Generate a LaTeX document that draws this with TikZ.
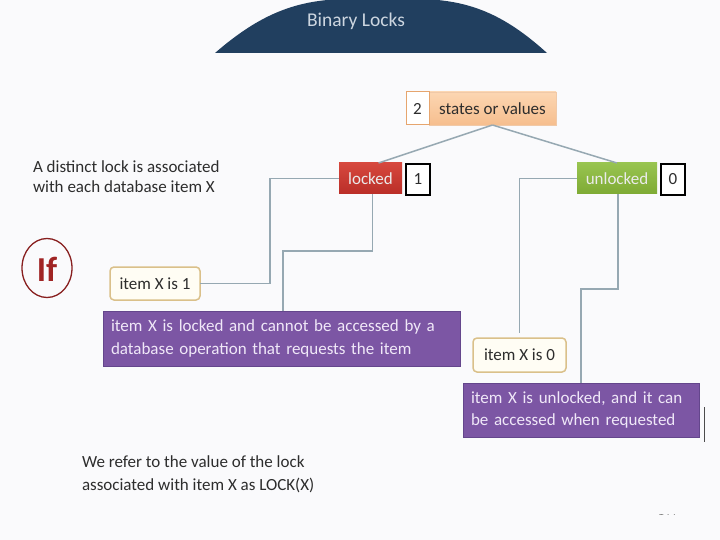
\documentclass[tikz,border=0pt]{standalone}
\usepackage{fontspec}
\setmainfont{Carlito}
\usetikzlibrary{calc,shapes.geometric}
\definecolor{bg}{RGB}{250,250,252}
\definecolor{dome}{RGB}{33,63,95}
\definecolor{titletxt}{RGB}{205,214,224}
\definecolor{conn}{RGB}{150,168,178}
\definecolor{txt}{RGB}{45,45,45}
\definecolor{peachT}{RGB}{252,214,178}
\definecolor{peachB}{RGB}{246,190,142}
\definecolor{peachD}{RGB}{230,165,110}
\definecolor{redT}{RGB}{214,72,62}
\definecolor{redB}{RGB}{186,46,40}
\definecolor{greenT}{RGB}{152,196,80}
\definecolor{greenB}{RGB}{126,170,52}
\definecolor{purp}{RGB}{124,86,164}
\definecolor{purpD}{RGB}{100,70,140}
\definecolor{purptxt}{RGB}{240,232,248}
\definecolor{itemfill}{RGB}{255,253,244}
\definecolor{itemdraw}{RGB}{218,192,138}
\definecolor{ifred}{RGB}{160,36,36}
\begin{document}
\begin{tikzpicture}[x=1pt,y=-1pt,
  every node/.style={inner sep=0pt,outer sep=0pt,font=\fontsize{17}{20}\selectfont,text=txt},
  conn/.style={draw=conn,line width=1.5pt},
  valbox/.style={draw=black,line width=1.3pt,fill=white,anchor=north west,minimum width=24pt,minimum height=31pt},
  statebox/.style={anchor=north west,minimum height=31pt,text=white!92!black},
  itembox/.style={draw=itemdraw,line width=1.5pt,fill=itemfill,rounded corners=4pt,anchor=north west},
  purpbox/.style={draw=purpD,line width=0.8pt,fill=purp,anchor=north west,align=left,text=purptxt}
]
\useasboundingbox (0,0) rectangle (720,540);
\fill[bg] (0,0) rectangle (720,540);
% title dome
\fill[dome] (215,53) .. controls (260,14) and (296,0) .. (345,-1) -- (420,-1) .. controls (469,0) and (504,14) .. (547,53) -- cycle;
\node[text=titletxt,font=\fontsize{19.5}{22}\selectfont] (title) at (356,21) {Binary Locks};
% states box
\node[anchor=north west,minimum width=127pt,minimum height=33pt,top color=peachT,bottom color=peachB,draw=peachD!60,line width=0.6pt] (states) at (429,92) {states or values};
\node[anchor=north west,minimum width=23pt,minimum height=33pt,fill=white,draw=peachD,line width=1pt] (two) at (406,92) {2};
% locked / unlocked
\node[statebox,minimum width=63pt,top color=redT,bottom color=redB] (locked) at (339,163) {locked};
\node[valbox] (one) at (406,164) {1};
\node[statebox,minimum width=80pt,top color=greenT,bottom color=greenB] (unlocked) at (577,163) {unlocked};
\node[valbox] (zero) at (661,164) {0};
% left texts
\node[anchor=north west,align=left] (distinct) at (33,161) {A distinct lock is associated\\with each database item X};
\node[draw=ifred!85!black,line width=1.3pt,ellipse,minimum width=50pt,minimum height=59pt] (ifc) at (47,268) {};
\node[text=ifred,font=\fontsize{35}{35}\bfseries] (iftxt) at (47,269) {If};
% item boxes
\node[itembox,minimum width=90pt,minimum height=33pt] (itemone) at (110,267) {item X is 1};
\node[itembox,minimum width=93pt,minimum height=34pt] (itemzero) at (473,338) {item X is 0};
% purple boxes
\node[purpbox,minimum width=357pt,minimum height=55pt,text width=341pt,inner xsep=8pt,font=\fontsize{17}{23.5}\selectfont] (purpone) at (103,311) {item X is locked and cannot be accessed by a\\database operation that requests the item};
\node[purpbox,minimum width=234pt,minimum height=54pt,text width=220pt,inner xsep=8pt,font=\fontsize{17}{22}\selectfont] (purptwo) at (463,383) {item X is unlocked, and it can\\be accessed when requested};
% bottom text
\node[anchor=north west,align=left,font=\fontsize{17}{23}\selectfont] (refer) at (82,456) {We refer to the value of the lock\\associated with item X as LOCK(X)};
% connectors
\draw[conn] (states.south) -- ($(locked.north)+(8,0)$);
\draw[conn] (states.south) -- (unlocked.north);
\draw[conn] (itemone.east) -- ++(70,0) |- (locked.west);
\draw[conn] ($(locked.south)+(2,0)$) -- ++(0,57) -| ($(purpone.north west)+(180,0)$);
\draw[conn] (unlocked.west) -| ($(itemzero.north)+(0,-5)$);
\draw[conn] ($(unlocked.south)+(1,0)$) -- ++(0,95) -| ($(purptwo.north west)+(118,0)$);
% page number (cut off)
\begin{scope}
\clip (640,514) rectangle (700,530);
\node[text=gray,font=\fontsize{12}{12}\selectfont] (pg) at (667,512) {144};
\end{scope}
\coordinate (edgeA) at (704,407);
\coordinate (edgeB) at (704,442);
\draw[black!70,line width=1pt] (edgeA) -- (edgeB);
\end{tikzpicture}
\end{document}
